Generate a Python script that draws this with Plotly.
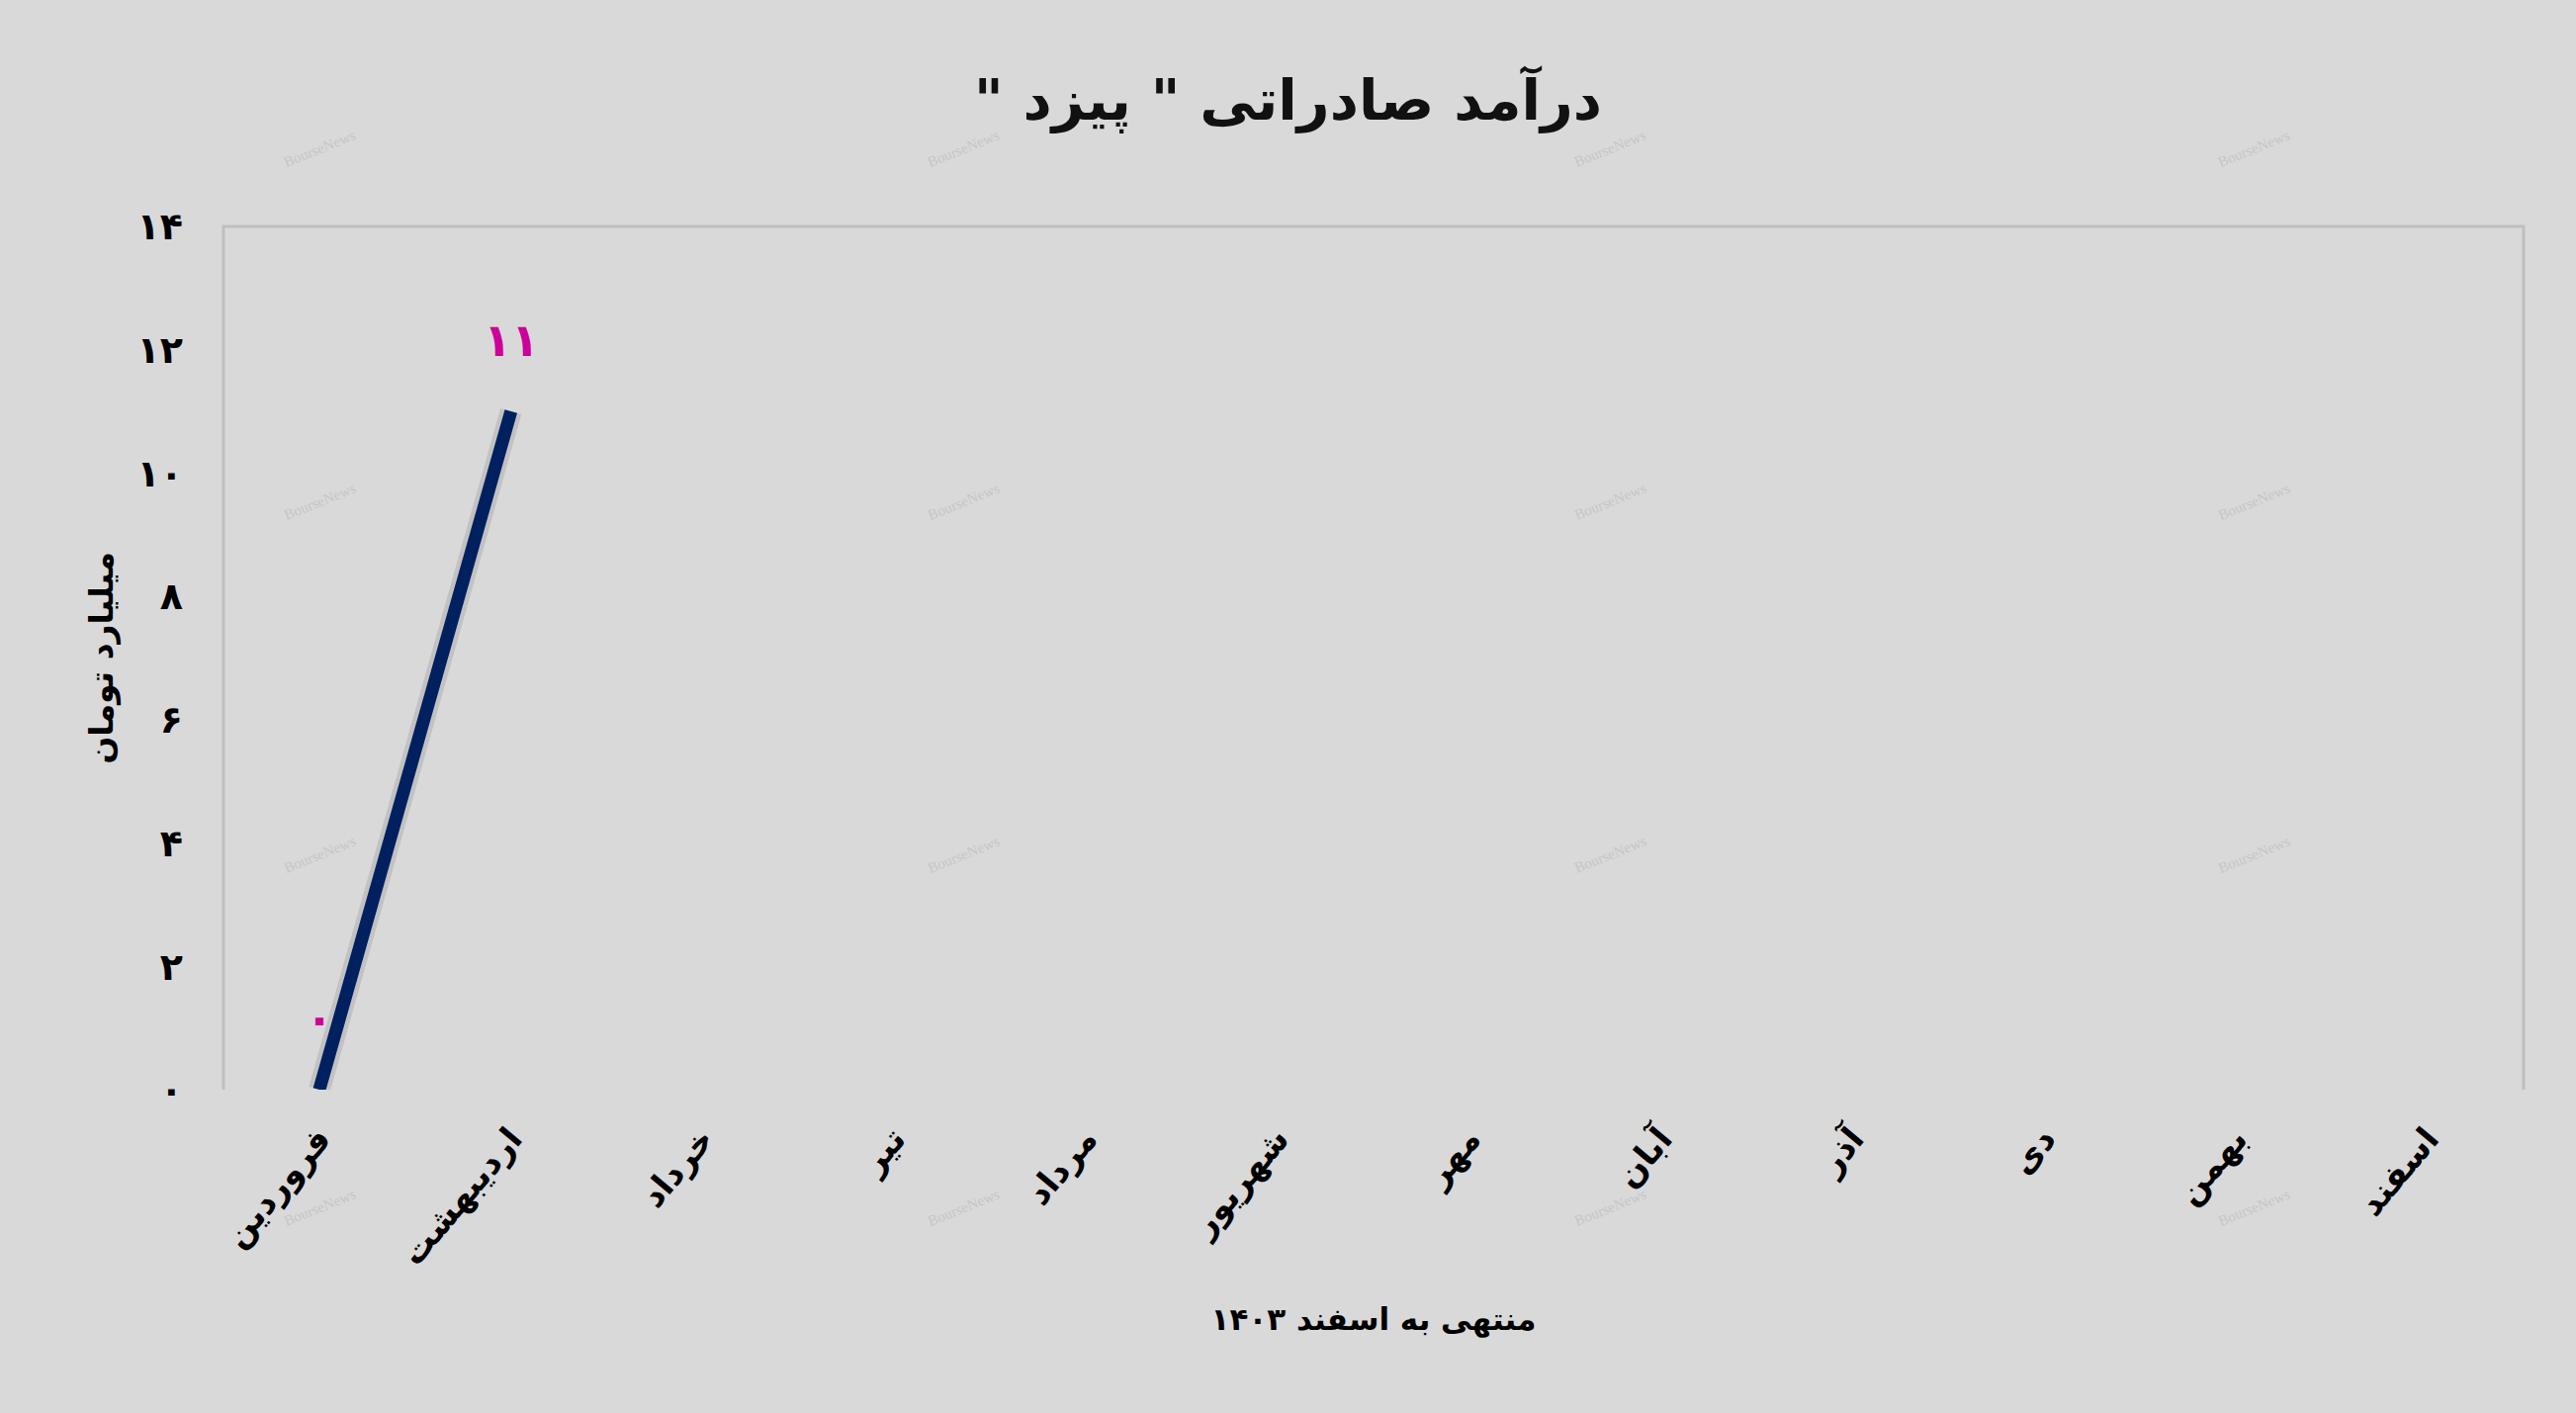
import plotly.graph_objects as go

# monthly export revenue (billion toman), year ending Esfand 1403
months = ["فروردین", "اردیبهشت", "خرداد", "تیر", "مرداد", "شهریور",
          "مهر", "آبان", "آذر", "دی", "بهمن", "اسفند"]
revenue = [0, 11, None, None, None, None, None, None, None, None, None, None]
point_labels = ["۰", "۱۱"]

y_ticks = [0, 2, 4, 6, 8, 10, 12, 14]
y_tick_text = ["۰", "۲", "۴", "۶", "۸", "۱۰", "۱۲", "۱۴"]

RLM = "\u200f"
title_name = RLM + 'درآمد صادراتی " پیزد "' + RLM
x_title = "منتهی به اسفند ۱۴۰۳"
y_title = "میلیارد تومان"

font_name = "DejaVu Sans"
bg = "#d9d9d9"

fig = go.Figure()
# soft shadow under the line
fig.add_scatter(x=months, y=revenue, mode="lines",
                line=dict(color="rgba(0,0,0,0.10)", width=22),
                hoverinfo="skip", showlegend=False)
fig.add_scatter(x=months, y=revenue, mode="lines",
                line=dict(color="#002060", width=13),
                showlegend=False)

# data labels above the points
for m, v, t in zip(months, revenue, point_labels):
    fig.add_annotation(x=m, y=v, text="<b>" + t + "</b>", showarrow=False,
                       yshift=72, font=dict(color="#cc0099", size=46, family=font_name))

fig.update_layout(
    width=2605, height=1429,
    paper_bgcolor=bg, plot_bgcolor=bg,
    margin=dict(l=226, r=53, t=229, b=327),
    font=dict(family=font_name, color="black"),
    title=dict(text="<b>" + title_name + "</b>", x=0.5, y=0.929,
               xanchor="center", yanchor="middle",
               font=dict(size=57, color="#111111")),
    showlegend=False,
)
fig.update_xaxes(type="category", range=[-0.5, 11.5], showgrid=False, zeroline=False,
                 showline=False, tickangle=-50, ticks="", ticklabelstandoff=22,
                 tickprefix="<b>", ticksuffix="</b>",
                 tickfont=dict(size=34, family=font_name),
                 title=dict(text="<b>" + x_title + "</b>", font=dict(size=31), standoff=36))
fig.update_yaxes(range=[0, 14], tickvals=y_ticks, ticktext=["<b>" + t + "</b>" for t in y_tick_text],
                 showgrid=False, zeroline=False, showline=False, ticks="",
                 ticklabelstandoff=40, tickfont=dict(size=38, family=font_name),
                 title=dict(text="<b>" + y_title + "</b>", font=dict(size=33), standoff=14))

# plot frame: left, top and right edges
fig.add_shape(type="path", xref="paper", yref="paper",
              path="M 0 0 L 0 1 L 1 1 L 1 0",
              line=dict(color="#bfbfbf", width=3))

# faint watermark
for wx in [0.042, 0.322, 0.603, 0.883]:
    for wy in [1.09, 0.682, 0.273, -0.136]:
        fig.add_annotation(text="BourseNews", xref="paper", yref="paper",
                           x=wx, y=wy, xanchor="center", yanchor="middle",
                           showarrow=False, textangle=-22,
                           font=dict(size=15, color="#c6c6c6", family="Liberation Serif"))

fig.write_html("out.html", config={"displayModeBar": False},
               post_script="document.body.style.margin='0';document.body.style.overflow='hidden';")
